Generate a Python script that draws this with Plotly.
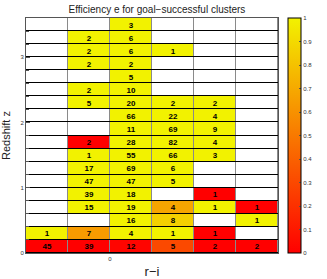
import plotly.graph_objects as go
import numpy as np

# r-i bin edges (tick at 0 only) and redshift bin edges
ri_edges = [-0.4, -0.2, 0.0, 0.2, 0.4, 0.6, 0.8]
z_edges = [round(0.2 * i, 1) for i in range(19)]

# counts per cell, bottom row (z=0) first; None = empty
counts = [
    [45, 39, 12, 5, 2, 2],
    [1, 7, 4, 1, 1, None],
    [None, None, 16, 8, None, 1],
    [None, 15, 19, 4, 1, 1],
    [None, 39, 18, None, 1, None],
    [None, 47, 47, 5, None, None],
    [None, 17, 69, 6, None, None],
    [None, 1, 55, 66, 3, None],
    [None, 2, 28, 82, 4, None],
    [None, None, 11, 69, 9, None],
    [None, None, 66, 22, 4, None],
    [None, 5, 20, 2, 2, None],
    [None, 2, 10, None, None, None],
    [None, None, 5, None, None, None],
    [None, 2, 2, None, None, None],
    [None, 2, 6, 1, None, None],
    [None, 2, 6, None, None, None],
    [None, None, 3, None, None, None],
]

# efficiency per cell
efficiency = [
    [0.0, 0.0, 0.02, 0.3, 0.0, 0.0],
    [1.0, 0.64, 1.0, 1.0, 0.0, None],
    [None, None, 1.0, 0.86, None, 1.0],
    [None, 1.0, 1.0, 0.68, 1.0, 0.0],
    [None, 1.0, 1.0, None, 0.0, None],
    [None, 1.0, 1.0, 1.0, None, None],
    [None, 1.0, 1.0, 1.0, None, None],
    [None, 1.0, 1.0, 1.0, 1.0, None],
    [None, 0.0, 1.0, 1.0, 1.0, None],
    [None, None, 1.0, 1.0, 1.0, None],
    [None, None, 1.0, 1.0, 1.0, None],
    [None, 1.0, 1.0, 1.0, 1.0, None],
    [None, 1.0, 1.0, None, None, None],
    [None, None, 1.0, None, None, None],
    [None, 1.0, 1.0, None, None, None],
    [None, 1.0, 1.0, 1.0, None, None],
    [None, 1.0, 1.0, None, None, None],
    [None, None, 1.0, None, None, None],
]

x_c = [(a + b) / 2 for a, b in zip(ri_edges[:-1], ri_edges[1:])]
y_c = [(a + b) / 2 for a, b in zip(z_edges[:-1], z_edges[1:])]

z = np.array([[np.nan if v is None else v for v in row] for row in efficiency])
txt = [["" if c is None else str(c) for c in row] for row in counts]
ones = np.ones_like(z)

fig = go.Figure()
# gray layer (vertical grid lines)
fig.add_trace(go.Heatmap(x=x_c, y=y_c, z=ones, colorscale=[[0, "#8a8a8a"], [1, "#8a8a8a"]],
                         showscale=False, ygap=1, hoverinfo="skip"))
# white layer (empty cells)
fig.add_trace(go.Heatmap(x=x_c, y=y_c, z=ones, colorscale=[[0, "white"], [1, "white"]],
                         showscale=False, xgap=1, ygap=1, hoverinfo="skip"))
fig.add_trace(go.Heatmap(
    x=x_c, y=y_c, z=z, text=txt, texttemplate="<b>%{text}</b>",
    textfont=dict(size=8, color="black", family="Liberation Sans"),
    colorscale=[[0, "#ff0000"], [1, "#f2f200"]], zmin=0, zmax=1,
    xgap=1, ygap=1,
    colorbar=dict(thickness=13, len=1, lenmode="fraction", y=0.5, yanchor="middle",
                  x=1.04, xanchor="left", xpad=0, ypad=0,
                  outlinecolor="black", outlinewidth=1,
                  tickvals=[i / 10 for i in range(11)],
                  ticktext=["0", "0.1", "0.2", "0.3", "0.4", "0.5", "0.6", "0.7", "0.8", "0.9", "1"],
                  ticks="inside", ticklen=2, tickcolor="#555",
                  tickfont=dict(size=6, color="#333", family="Liberation Sans")),
))

fig.update_layout(
    width=327, height=279,
    margin=dict(l=26, r=39, t=18, b=26),
    paper_bgcolor="white", plot_bgcolor="black",
    title=dict(text="Efficiency e for goal\u2212successful clusters", x=0.48, xanchor="center",
               y=0.98, yanchor="top",
               font=dict(size=10, color="#222", family="Liberation Sans")),
    xaxis=dict(range=[ri_edges[0], ri_edges[-1]], tickvals=[0], ticktext=["0"],
               ticks="", showgrid=False, zeroline=False, automargin=False,
               showline=True, mirror=True, linecolor="#555", linewidth=1,
               tickfont=dict(size=6, color="#333", family="Liberation Sans"),
               title=dict(text="r\u2212i", font=dict(size=13, color="#222", family="Liberation Sans"))),
    yaxis=dict(range=[z_edges[0], z_edges[-1]], tickvals=[0, 1, 2, 3],
               ticks="inside", ticklen=4, tickcolor="#555", automargin=False,
               minor=dict(tickvals=z_edges, ticks="inside", ticklen=3, tickcolor="#555"),
               showgrid=False, zeroline=False,
               showline=True, mirror=True, linecolor="#555", linewidth=1,
               tickfont=dict(size=6, color="#333", family="Liberation Sans"),
               title=dict(text="Redshift z", font=dict(size=11, color="#222", family="Liberation Sans"))),
)

fig.write_html("out.html", config={"displayModeBar": False},
               post_script="document.body.style.margin='0px';")
